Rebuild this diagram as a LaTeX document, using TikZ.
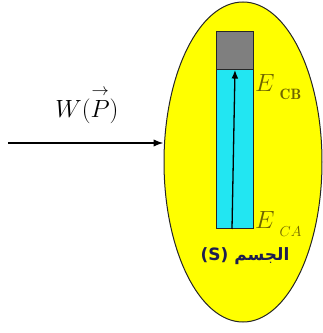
\documentclass[tikz,border=0pt]{standalone}
\usepackage{amsmath,amssymb}
\usepackage{fontspec}
\usetikzlibrary{arrows.meta,positioning,shapes.geometric}
\TeXXeTstate=1
\newfontfamily\arabicfont[Script=Arabic]{DejaVu Sans}
\definecolor{BodyYellow}{HTML}{FFFF00}
\definecolor{TubeCyan}{HTML}{22E6F2}
\definecolor{TopGray}{HTML}{7F7F7F}
\definecolor{LevelOlive}{HTML}{6E6400}
\definecolor{NameInk}{HTML}{1E1E50}

\begin{document}
\begin{tikzpicture}[x=1pt,y=1pt,
    body/.style={ellipse,draw=black!85,fill=BodyYellow,line width=1pt,
                 minimum width=158pt,minimum height=320pt,inner sep=0pt},
    tube/.style={draw=black!85,line width=1.4pt,inner sep=0pt,anchor=south west},
    level/.style={anchor=base west,text=LevelOlive,inner sep=0pt,
                  font=\fontsize{30}{30}\selectfont},
    arr/.style={-{Latex[length=3.5mm,width=2.6mm]},line width=1.5pt}]
    \useasboundingbox (0,0) rectangle (323,333);
    \node[body] (body) at (243,171) {};
    % tube: coloured part and grey top
    \node[tube,fill=TubeCyan,minimum width=37pt,minimum height=197pt] (tubeA) at (216,104) {};
    \node[tube,fill=TopGray,minimum width=37pt,minimum height=38pt,anchor=north west] (tubeB) at (tubeA.north west) {};
    \coordinate (lowA) at (232,104);
    \coordinate (highB) at (235,263);
    \draw[arr,line width=1.3pt,-{Latex[length=3mm,width=2.4mm]}] (lowA) -- (highB);
    \node[level] (ecb) at (255,241) {$E$\hspace{5pt}\raisebox{-8pt}{\fontsize{15}{15}\selectfont$\mathbf{CB}$}};
    \node[level] (eca) at (255,105) {$E$\hspace{5pt}\raisebox{-9pt}{\fontsize{15}{15}\selectfont$CA$}};
    \node[text=NameInk,font=\bfseries\fontsize{17}{17}\selectfont] (name) at (245,77)
        {\arabicfont\beginR الجسم \beginL(S)\endL\endR};
    % work received by the body
    \coordinate (src) at (8,190);
    \draw[arr] (src) -- (src -| body.west);
    \node[font=\fontsize{26}{28}\selectfont] (work) at (87,228) {$W(\overset{\rightarrow}{P})$};
  \end{tikzpicture}
\end{document}
